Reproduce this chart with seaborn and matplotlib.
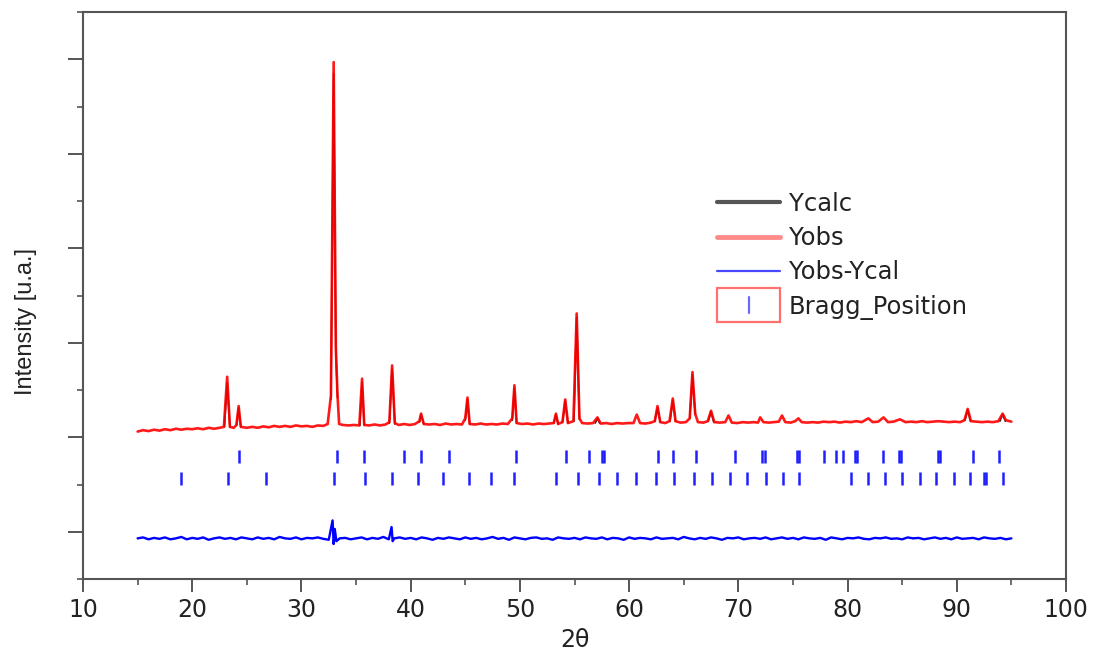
import numpy as np
import pandas as pd
import seaborn as sns
import matplotlib.pyplot as plt
from matplotlib.lines import Line2D
from matplotlib.patches import Rectangle
from matplotlib.legend_handler import HandlerBase
from matplotlib.ticker import MultipleLocator

# observed pattern (2theta, intensity in arbitrary units)
obs_x = [15.0, 15.5, 16.0, 16.5, 17.0, 17.5, 18.0, 18.5, 19.0, 19.5, 20.0, 20.5, 21.0, 21.5, 22.0, 22.5,
         22.9, 23.2, 23.45, 23.8, 24.05, 24.25, 24.45, 25.0, 25.5, 26.0, 26.5, 27.0, 27.5, 28.0, 28.5,
         29.0, 29.5, 30.0, 30.5, 31.0, 31.5, 32.0, 32.4, 32.7, 32.95, 33.15, 33.3, 33.45, 33.8, 34.3,
         34.8, 35.3, 35.55, 35.75, 36.2, 36.7, 37.2, 37.7, 38.05, 38.3, 38.55, 38.9, 39.4, 39.9, 40.4,
         40.8, 40.95, 41.2, 41.7, 42.2, 42.7, 43.2, 43.7, 44.2, 44.7, 45.0, 45.2, 45.4, 45.9, 46.4, 46.9,
         47.4, 47.9, 48.4, 48.9, 49.3, 49.5, 49.7, 50.2, 50.7, 51.2, 51.7, 52.2, 52.7, 53.1, 53.3, 53.5,
         53.9, 54.15, 54.4, 54.9, 55.2, 55.45, 55.7, 56.2, 56.7, 57.1, 57.4, 57.9, 58.4, 58.9, 59.4, 59.9,
         60.4, 60.7, 61.0, 61.5, 62.0, 62.35, 62.6, 62.85, 63.3, 63.7, 64.0, 64.25, 64.7, 65.2, 65.55,
         65.8, 66.05, 66.3, 66.8, 67.2, 67.5, 67.8, 68.3, 68.8, 69.1, 69.4, 69.9, 70.4, 70.9, 71.4, 71.8,
         72.0, 72.3, 72.8, 73.3, 73.7, 74.0, 74.3, 74.8, 75.2, 75.5, 75.8, 76.3, 76.8, 77.3, 77.8, 78.3,
         78.8, 79.3, 79.8, 80.3, 80.8, 81.3, 81.9, 82.3, 82.8, 83.3, 83.7, 84.2, 84.8, 85.3, 85.8, 86.3,
         86.8, 87.3, 87.8, 88.3, 88.8, 89.3, 89.8, 90.3, 90.7, 91.0, 91.3, 91.8, 92.3, 92.8, 93.3, 93.8,
         94.2, 94.5, 95.0]
obs_y = [1.06, 1.075, 1.065, 1.08, 1.07, 1.085, 1.075, 1.09, 1.08, 1.09, 1.085, 1.095, 1.085, 1.1, 1.09, 1.1,
         1.11, 1.64, 1.11, 1.1, 1.13, 1.33, 1.11, 1.1, 1.11, 1.1, 1.115, 1.105, 1.12, 1.11, 1.12,
         1.11, 1.125, 1.115, 1.12, 1.11, 1.125, 1.12, 1.14, 1.44, 4.97, 1.95, 1.45, 1.14, 1.13, 1.125,
         1.13, 1.125, 1.62, 1.13, 1.125, 1.135, 1.125, 1.135, 1.16, 1.76, 1.15, 1.13, 1.14, 1.13, 1.14,
         1.17, 1.25, 1.14, 1.135, 1.14, 1.13, 1.145, 1.135, 1.14, 1.135, 1.2, 1.42, 1.14, 1.135, 1.145, 1.135,
         1.14, 1.135, 1.145, 1.14, 1.2, 1.55, 1.15, 1.14, 1.145, 1.135, 1.145, 1.14, 1.145, 1.15, 1.25, 1.14,
         1.16, 1.40, 1.15, 1.17, 2.31, 1.2, 1.15, 1.145, 1.15, 1.21, 1.145, 1.15, 1.14, 1.15, 1.145, 1.15,
         1.15, 1.24, 1.15, 1.145, 1.155, 1.17, 1.33, 1.16, 1.15, 1.17, 1.41, 1.17, 1.155, 1.16, 1.2,
         1.69, 1.25, 1.16, 1.155, 1.17, 1.28, 1.16, 1.155, 1.16, 1.23, 1.155, 1.15, 1.16, 1.155, 1.16, 1.155,
         1.21, 1.16, 1.155, 1.16, 1.165, 1.23, 1.16, 1.155, 1.17, 1.2, 1.16, 1.155, 1.16, 1.155, 1.165, 1.16,
         1.165, 1.155, 1.165, 1.16, 1.17, 1.16, 1.2, 1.16, 1.165, 1.21, 1.16, 1.165, 1.19, 1.16, 1.165, 1.16,
         1.17, 1.16, 1.165, 1.17, 1.165, 1.16, 1.165, 1.16, 1.18, 1.30, 1.17, 1.165, 1.16, 1.165, 1.16, 1.17,
         1.25, 1.18, 1.165]

# calculated pattern, only the peak regions (mostly hidden under the observed curve)
calc_x = [22.95, 23.2, 23.45, 24.05, 24.25, 24.45, 32.7, 32.95, 33.15, 33.3, 35.35, 35.55, 35.75,
          38.05, 38.3, 38.55, 40.8, 40.95, 41.2, 45.0, 45.2, 45.4, 49.3, 49.5, 49.7, 53.1, 53.3, 53.5,
          53.9, 54.15, 54.4, 54.95, 55.2, 55.45, 56.9, 57.1, 57.3, 62.35, 62.6, 62.85, 63.75, 64.0, 64.25,
          65.55, 65.8, 66.05, 67.25, 67.5, 67.75, 90.75, 91.0, 91.25, 93.95, 94.2, 94.45]
calc_y = [1.11, 1.58, 1.11, 1.13, 1.31, 1.11, 1.40, 4.85, 1.9, 1.42, 1.125, 1.58, 1.13,
          1.15, 1.72, 1.14, 1.16, 1.24, 1.14, 1.18, 1.40, 1.14, 1.18, 1.52, 1.15, 1.15, 1.24, 1.14,
          1.16, 1.38, 1.15, 1.17, 2.27, 1.19, 1.15, 1.2, 1.15, 1.17, 1.31, 1.16, 1.17, 1.39, 1.17,
          1.2, 1.66, 1.24, 1.17, 1.27, 1.16, 1.18, 1.29, 1.17, 1.17, 1.24, 1.17]
calc_seg = [0, 0, 0, 1, 1, 1, 2, 2, 2, 2, 3, 3, 3, 4, 4, 4, 5, 5, 5, 6, 6, 6, 7, 7, 7, 8, 8, 8,
            9, 9, 9, 10, 10, 10, 11, 11, 11, 12, 12, 12, 13, 13, 13, 14, 14, 14, 15, 15, 15,
            16, 16, 16, 17, 17, 17]

# difference curve, sampled every 0.5 deg from 15 to 95
diff_y = [-0.07, -0.06, -0.08, -0.065, -0.075, -0.06, -0.08, -0.07, -0.055, -0.08,
          -0.065, -0.075, -0.06, -0.085, -0.07, -0.06, -0.075, -0.065, -0.08, -0.06,
          -0.07, -0.08, -0.06, -0.075, -0.065, -0.08, -0.055, -0.07, -0.075, -0.06,
          -0.08, -0.065, -0.07, -0.06, -0.075, -0.085, -0.06, -0.07, -0.065, -0.08,
          -0.07, -0.06, -0.08, -0.065, -0.075, -0.055, -0.08, -0.07, -0.06, -0.075,
          -0.065, -0.08, -0.06, -0.07, -0.085, -0.065, -0.075, -0.06, -0.07, -0.08,
          -0.06, -0.075, -0.065, -0.08, -0.07, -0.055, -0.075, -0.065, -0.085, -0.06,
          -0.07, -0.08, -0.065, -0.06, -0.075, -0.07, -0.085, -0.06, -0.07, -0.075,
          -0.065, -0.08, -0.06, -0.07, -0.075, -0.06, -0.08, -0.065, -0.07, -0.085,
          -0.06, -0.075, -0.065, -0.07, -0.08, -0.06, -0.075, -0.07, -0.065, -0.08,
          -0.055, -0.07, -0.08, -0.065, -0.075, -0.06, -0.07, -0.085, -0.065, -0.07,
          -0.06, -0.08, -0.07, -0.065, -0.075, -0.06, -0.08, -0.07, -0.06, -0.075,
          -0.065, -0.08, -0.06, -0.07, -0.075, -0.065, -0.085, -0.06, -0.07, -0.08,
          -0.065, -0.07, -0.06, -0.075, -0.08, -0.065, -0.07, -0.06, -0.075, -0.07,
          -0.08, -0.06, -0.07, -0.065, -0.08, -0.07, -0.06, -0.075, -0.065, -0.08,
          -0.06, -0.075, -0.07, -0.065, -0.08, -0.06, -0.07, -0.075, -0.065, -0.08,
          -0.07]
diff_x = list(np.linspace(15, 95, len(diff_y)))
# spikes of the difference curve at the strongest reflections
spike_x = [32.85, 32.95, 33.05, 33.2, 38.25, 38.35]
spike_y = [0.12, -0.13, 0.03, -0.1, 0.05, -0.1]

# Bragg reflections of the two phases
bragg_row1 = [24.3, 33.3, 35.7, 39.4, 40.95, 43.5, 49.6, 54.2, 56.3, 57.5, 57.7, 62.6, 64.0, 66.1,
              69.7, 72.2, 72.4, 75.4, 75.6, 77.8, 78.9, 79.6, 80.7, 80.9, 83.2, 84.7, 84.9, 88.3, 88.5,
              91.5, 93.9]
bragg_row2 = [19.0, 23.3, 26.8, 33.0, 35.8, 38.3, 40.7, 43.0, 45.3, 47.4, 49.5, 53.3, 55.3, 57.2,
              58.9, 60.6, 62.5, 64.1, 65.9, 67.6, 69.2, 70.8, 72.5, 74.1, 75.6, 80.3, 81.9, 83.4, 85.0,
              86.6, 88.1, 89.7, 91.2, 92.5, 92.7, 94.2]
row1_level = 0.80
row2_level = 0.56
tick_half = 0.07


class BraggHandler(HandlerBase):
    def create_artists(self, legend, orig_handle, xdescent, ydescent, width, height, fontsize, trans):
        box = Rectangle((-xdescent, -ydescent - 0.5 * height), width, height * 2.0,
                        facecolor='white', edgecolor='#ff7070', lw=1.6, transform=trans)
        x0 = -xdescent + width / 2
        tick = Line2D([x0, x0], [-ydescent + 0.05 * height, -ydescent + 0.95 * height],
                      color='#6a6aff', lw=1.6, transform=trans)
        return [box, tick]


sns.set_style('ticks')
plt.rcParams['font.family'] = ['DejaVu Sans']

fig = plt.figure(figsize=(10.95, 6.55), dpi=100)
ax = fig.add_axes([83 / 1095, 1 - 579 / 655, (1066 - 83) / 1095, (579 - 12) / 655])

obs = pd.DataFrame({'x': obs_x, 'y': obs_y})
calc = pd.DataFrame({'x': calc_x, 'y': calc_y, 'seg': calc_seg})
diff = pd.DataFrame({'x': diff_x + spike_x, 'y': diff_y + spike_y}).sort_values('x')

sns.lineplot(data=calc, x='x', y='y', units='seg', ax=ax, color='#222222', lw=1.2,
             estimator=None, sort=False)
sns.lineplot(data=obs, x='x', y='y', ax=ax, color='#ff0000', lw=1.9, estimator=None, sort=False,
             alpha=0.9)
sns.lineplot(data=diff, x='x', y='y', ax=ax, color='#0000ff', lw=1.7, estimator=None, sort=False)

ax.vlines(bragg_row1, row1_level - tick_half, row1_level + tick_half, color='#2020ff', lw=1.8)
ax.vlines(bragg_row2, row2_level - tick_half, row2_level + tick_half, color='#2020ff', lw=1.8)

ax.set_xlim(10, 100)
ax.set_ylim(-0.5, 5.5)
ax.set_xticks(range(10, 101, 10))
ax.xaxis.set_minor_locator(MultipleLocator(5))
ax.set_yticks(range(0, 6))
ax.set_yticklabels([])
ax.yaxis.set_minor_locator(MultipleLocator(0.5))
ax.tick_params(which='major', length=9, width=1.4, color='#555555', labelsize=17, pad=5,
               labelcolor='#222222')
ax.tick_params(which='minor', length=4, width=1.2, color='#555555')
ax.tick_params(axis='y', which='major', length=11)

for side in ['left', 'bottom', 'top', 'right']:
    ax.spines[side].set_color('#555555')
    ax.spines[side].set_linewidth(1.5)

ax.set_xlabel('2θ', fontsize=17, color='#222222', labelpad=4)
ax.set_ylabel('Intensity [u.a.]', fontsize=17, color='#222222',
              family=['Liberation Sans', 'DejaVu Sans'])
ax.yaxis.set_label_coords(-0.047, 0.455)

bragg_handle = Rectangle((0, 0), 1, 1)
handles = [Line2D([], [], color='#555555', lw=3),
           Line2D([], [], color='#ff8a8a', lw=3.5),
           Line2D([], [], color='#4848ff', lw=1.6),
           bragg_handle]
labels = ['Ycalc', 'Yobs', 'Yobs-Ycal', 'Bragg_Position']
leg = ax.legend(handles, labels, loc='upper left', bbox_to_anchor=(717 / 1095, 1 - 192 / 655),
                bbox_transform=fig.transFigure, frameon=False, fontsize=17.5, handlelength=2.6,
                handletextpad=0.35, labelspacing=0.42, borderpad=0, borderaxespad=0,
                handler_map={bragg_handle: BraggHandler()})
for t in leg.get_texts():
    t.set_color('#222222')

fig.savefig('out.png', dpi=100)
